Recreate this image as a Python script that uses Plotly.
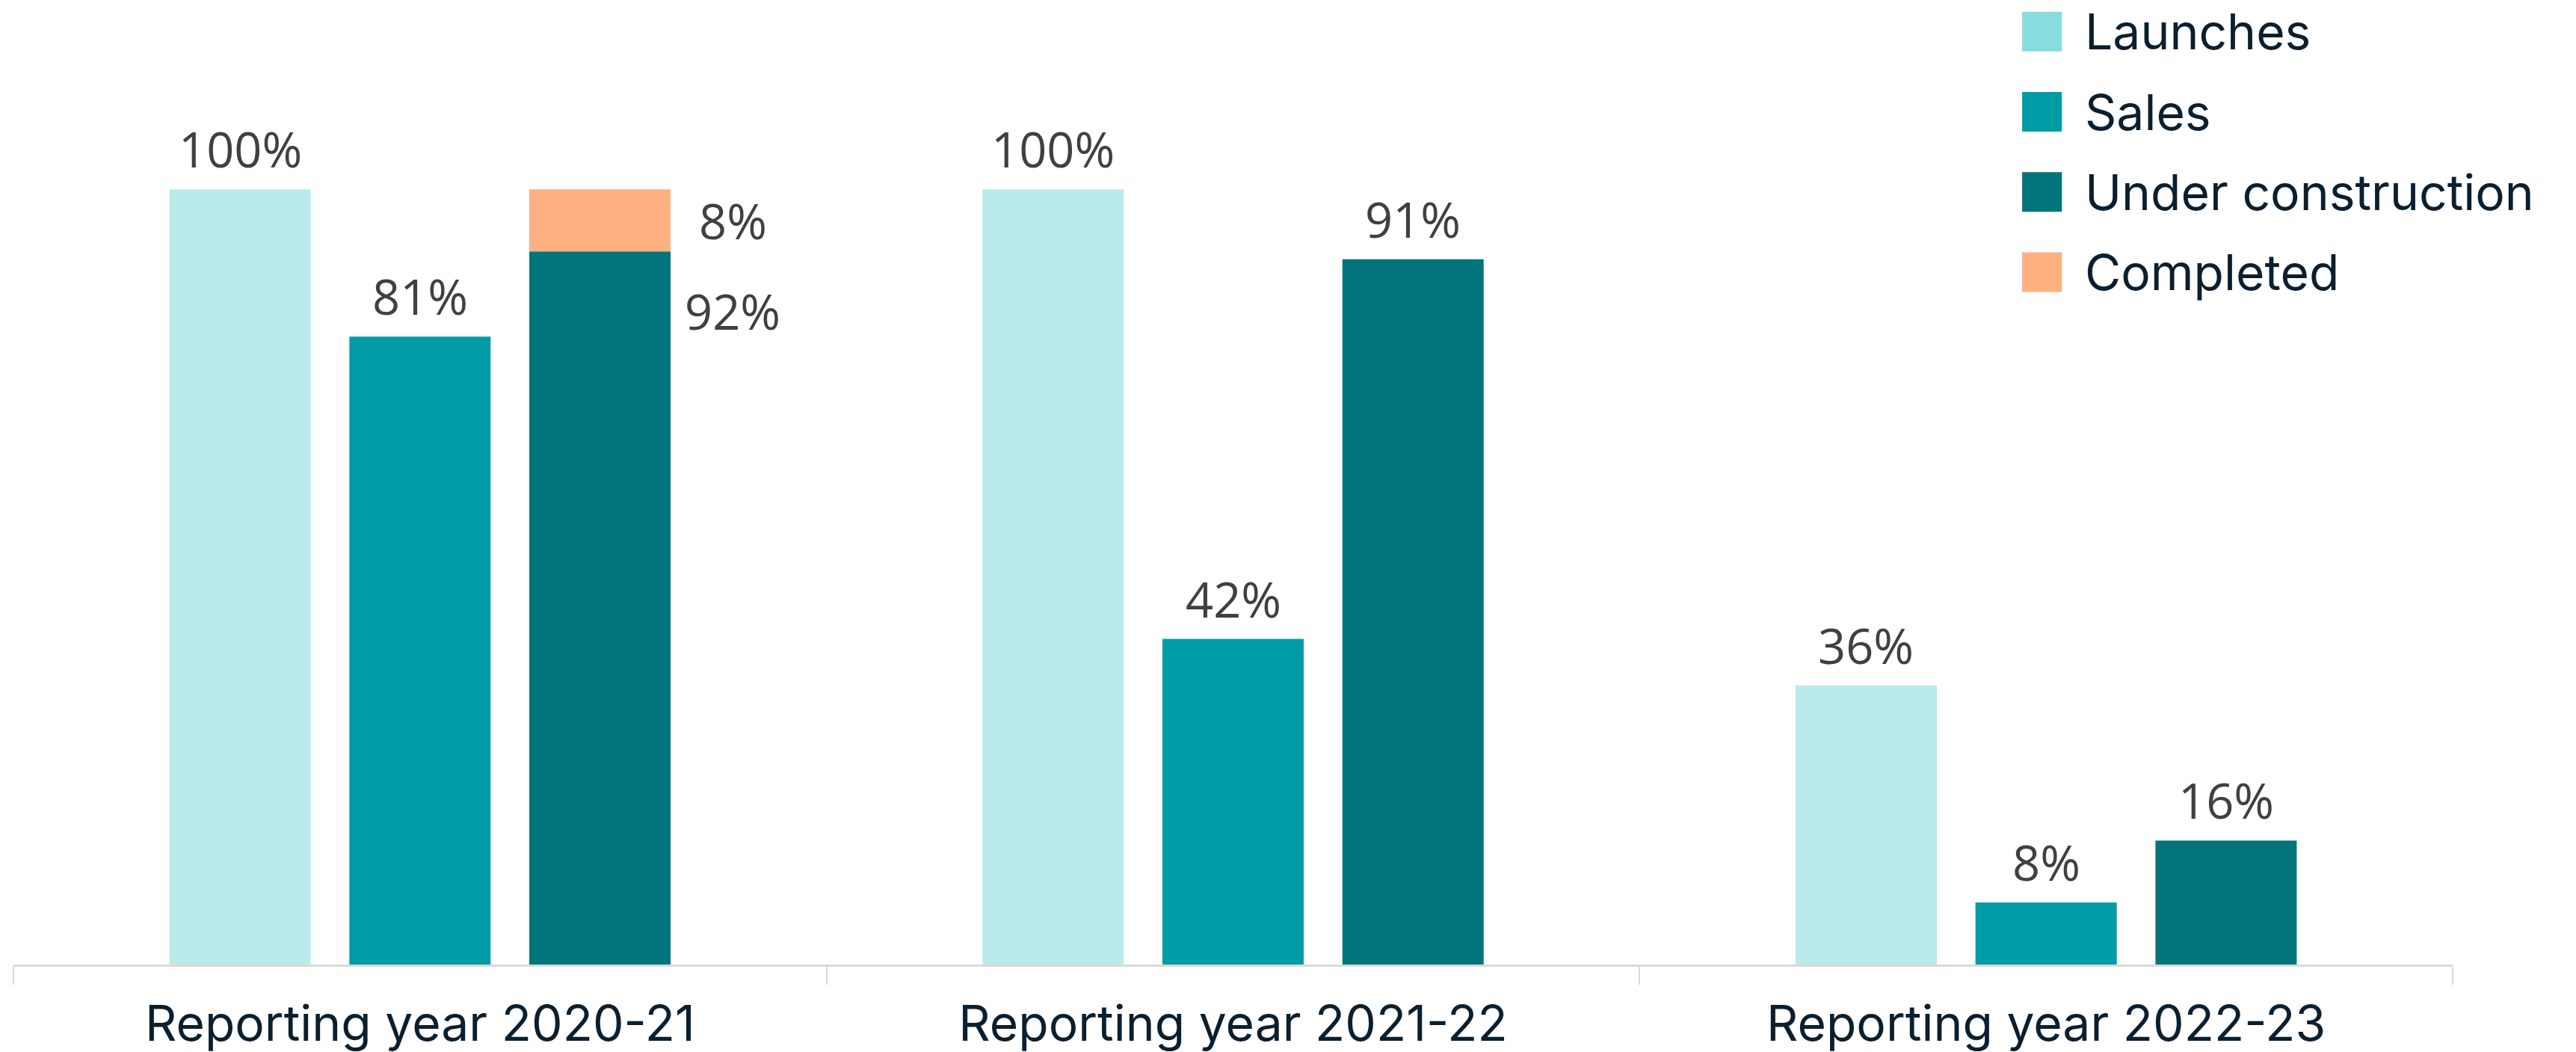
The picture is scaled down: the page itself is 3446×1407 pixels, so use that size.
import plotly.graph_objects as go

categories = ["Reporting year 2020-21", "Reporting year 2021-22", "Reporting year 2022-23"]
launches = [100, 100, 36]
sales = [81, 42, 8]
under_construction = [92, 91, 16]
completed = [8, 0, 0]

series_names = ["Launches", "Sales", "Under construction", "Completed"]
bar_colors = ["#BAEAEB", "#009CA6", "#02747C", "#FFB081"]
legend_colors = ["#88DCDE", "#009CA6", "#02747C", "#FFB081"]

LABEL_FONT = dict(family="Open Sans, Liberation Sans, sans-serif", size=65, color="#404040")
TEXT_FONT = "Inter, Liberation Sans, sans-serif"
NAVY = "#0B1F2E"

BARGAP = 0.336
BARGROUPGAP = 0.215
slot = (1 - BARGAP) / 3
bar_w = slot * (1 - BARGROUPGAP)

fig = go.Figure()
grouped = [launches, sales, under_construction]
groups = ["a", "b", "c"]
for s, vals in enumerate(grouped):
    fig.add_trace(go.Bar(x=categories, y=vals, name=series_names[s], offsetgroup=groups[s],
                         marker=dict(color=bar_colors[s], line=dict(width=0)),
                         showlegend=False))
fig.add_trace(go.Bar(x=categories, y=completed, base=under_construction, name=series_names[3],
                     offsetgroup="c",
                     marker=dict(color=bar_colors[3], line=dict(width=0)),
                     showlegend=False))

# value labels above bars
for s, vals in enumerate(grouped):
    off = (s - 1) * slot
    for i, v in enumerate(vals):
        if s == 2 and completed[i] > 0:
            continue
        fig.add_annotation(x=i + off, y=v, text=f"{v}%", xanchor="center", yanchor="bottom",
                           yshift=8, showarrow=False, font=LABEL_FONT)

# side labels for the stacked bar
right_edge_offset = slot + bar_w / 2
for i, (u, c) in enumerate(zip(under_construction, completed)):
    if c > 0:
        fig.add_annotation(x=i + right_edge_offset, y=u + c / 2, text=f"{c}%",
                           xanchor="left", yanchor="middle", xshift=36,
                           showarrow=False, font=LABEL_FONT)
        fig.add_annotation(x=i + right_edge_offset, y=u, text=f"{u}%",
                           xanchor="left", yanchor="middle", xshift=17, yshift=-80,
                           showarrow=False, font=LABEL_FONT)

# custom legend
leg_x0 = 0.8235
leg_w = 0.0163
leg_h = 0.0426
leg_y_top = 1.003
leg_step = 0.0862
for k, (name, col) in enumerate(zip(series_names, legend_colors)):
    yc = leg_y_top - k * leg_step
    fig.add_shape(type="rect", xref="paper", yref="paper",
                  x0=leg_x0, x1=leg_x0 + leg_w, y0=yc - leg_h / 2, y1=yc + leg_h / 2,
                  fillcolor=col, line=dict(width=0))
    fig.add_annotation(xref="paper", yref="paper", x=0.8486, y=yc, text=name,
                       xanchor="left", yanchor="middle", showarrow=False,
                       font=dict(family=TEXT_FONT, size=66, color=NAVY))

fig.update_layout(
    width=3446, height=1407,
    margin=dict(l=18, r=165, t=46, b=117, autoexpand=False),
    paper_bgcolor="white", plot_bgcolor="white",
    barmode="group", bargap=BARGAP, bargroupgap=BARGROUPGAP,
    showlegend=False,
    xaxis=dict(showline=True, linecolor="#D9D9D9", linewidth=3, automargin=False,
               ticks="outside", tickson="boundaries", ticklen=24, tickwidth=2,
               tickcolor="#D9D9D9", showgrid=False, zeroline=False,
               tickfont=dict(family=TEXT_FONT, size=66, color=NAVY),
               ticklabelstandoff=20),
    yaxis=dict(range=[0, 120], visible=False, showgrid=False, zeroline=False,
               automargin=False),
)

fig.write_html("out.html")
